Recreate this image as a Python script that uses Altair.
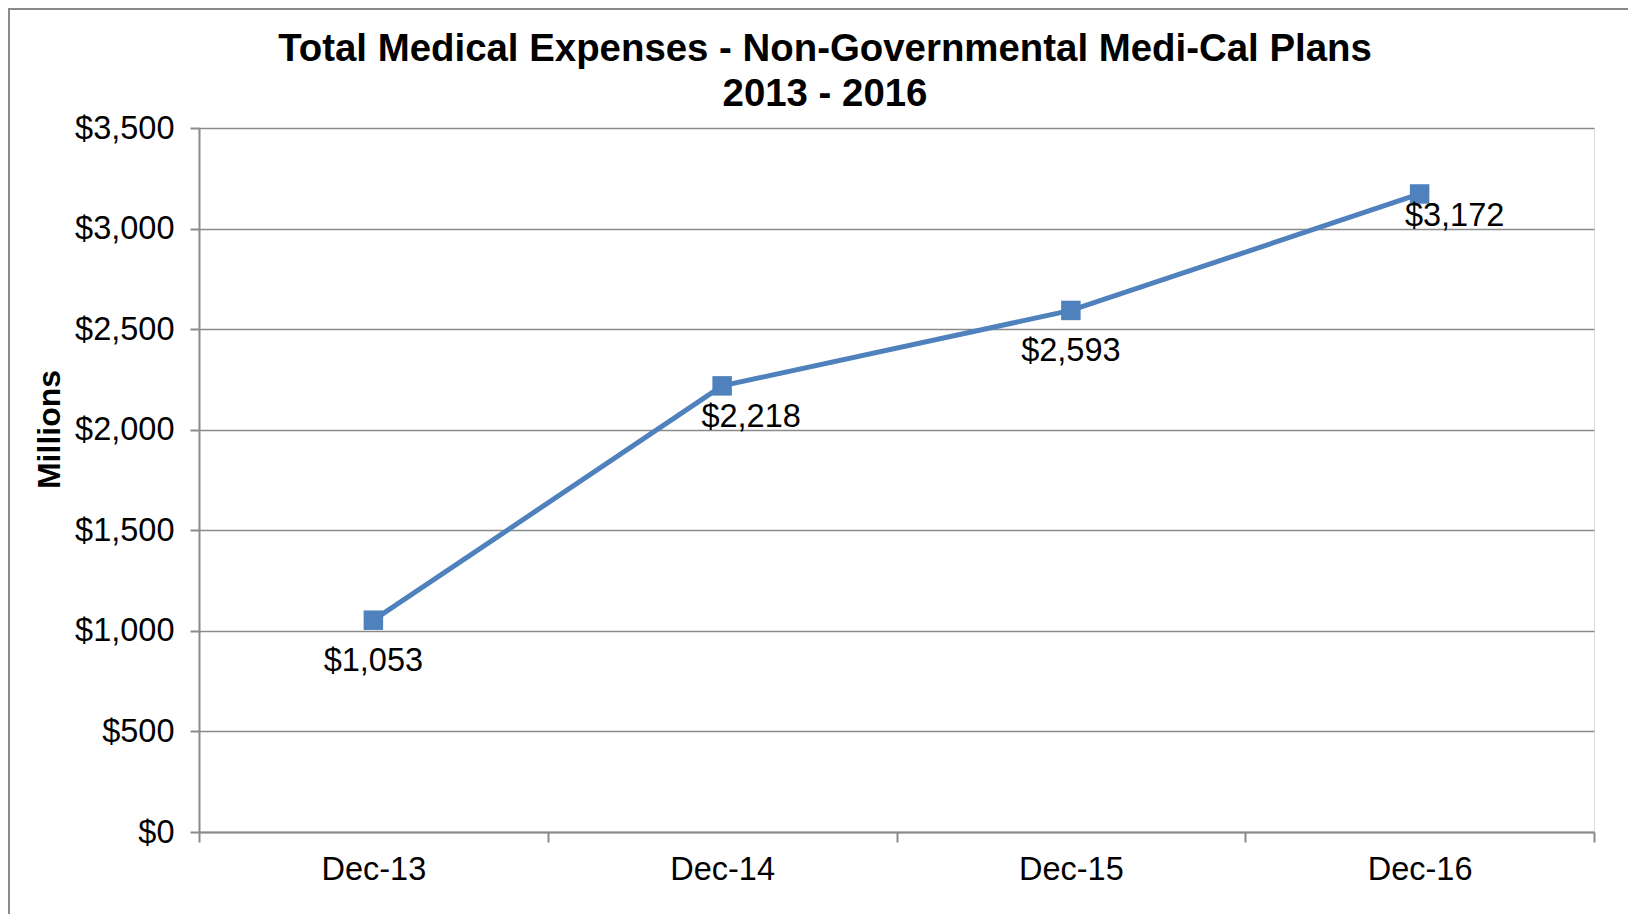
import altair as alt
import pandas as pd

months = ["Dec-13", "Dec-14", "Dec-15", "Dec-16"]
expenses = [1053, 2218, 2593, 3172]
y_ticks = [0, 500, 1000, 1500, 2000, 2500, 3000, 3500]
title_lines = ["Total Medical Expenses - Non-Governmental Medi-Cal Plans", "2013 - 2016"]

df = pd.DataFrame({"month": months, "value": expenses, "idx": list(range(len(months)))})

FONT = "Liberation Sans"
FS = 32.5
W, H = 1395, 704
GRAY = "#8a8a8a"
LINE = "#4F81BD"

x_enc = alt.X(
    "month:N",
    sort=months,
    bandPosition=0.5,
    scale=alt.Scale(type="band", paddingInner=0, paddingOuter=0),
    axis=alt.Axis(
        title=None, tickBand="extent", labelAngle=0, labelFontSize=FS,
        labelFont=FONT, labelColor="black", tickSize=10, tickColor=GRAY,
        tickWidth=2, domainColor=GRAY, domainWidth=2, labelPadding=11,
        grid=False,
    ),
)
y_enc = alt.Y(
    "value:Q",
    scale=alt.Scale(domain=[0, 3500], nice=False, zero=True),
    axis=alt.Axis(
        title="Millions", values=y_ticks, format="$,.0f", labelFontSize=FS,
        labelFont=FONT, labelColor="black", titleFont=FONT, titleFontSize=32,
        titleFontWeight="bold", titleColor="black", titlePadding=8,
        titleY=301,
        tickSize=9, tickColor=GRAY, tickWidth=2, domainColor=GRAY,
        domainWidth=2, labelPadding=16, grid=True, gridColor=GRAY,
        gridWidth=1.5,
    ),
)

base = alt.Chart(df)

line = base.mark_line(color=LINE, strokeWidth=5).encode(x=x_enc, y=y_enc)
pts = base.mark_square(color=LINE, size=380, opacity=1).encode(x=x_enc, y=y_enc)

label_offsets = [(0, 41), (29, 31), (0, 41), (35, 22)]
labels = []
for i, (dx, dy) in enumerate(label_offsets):
    labels.append(
        base.transform_filter(alt.datum.idx == i)
        .mark_text(font=FONT, fontSize=FS, color="black", dx=dx, dy=dy,
                   baseline="middle", align="center")
        .encode(x=x_enc, y=y_enc, text=alt.Text("value:Q", format="$,.0f"))
    )

title_df = pd.DataFrame({"line": title_lines, "n": list(range(len(title_lines)))})
title_layers = []
for i, yy in enumerate([-79, -34]):
    title_layers.append(
        alt.Chart(title_df).transform_filter(alt.datum.n == i)
        .mark_text(font=FONT, fontSize=38.4, fontWeight="bold", color="black",
                   baseline="middle", align="center")
        .encode(text="line:N", x=alt.value(626), y=alt.value(yy))
    )

frame = alt.Chart(pd.DataFrame({"a": [0]})).mark_rect(
    fill=None, stroke=GRAY, strokeWidth=2
).encode(
    x=alt.value(-190), x2=alt.value(W + 200),
    y=alt.value(-119), y2=alt.value(H + 200),
)

chart = alt.layer(frame, line, pts, *labels, *title_layers).properties(
    width=W, height=H,
    autosize=alt.AutoSizeParams(type="none"),
    padding={"left": 191, "top": 120, "right": 34, "bottom": 82},
).configure_view(stroke="transparent", strokeWidth=0).configure(background="white")

chart.save("out.html", embed_options={"renderer": "svg", "actions": False})
